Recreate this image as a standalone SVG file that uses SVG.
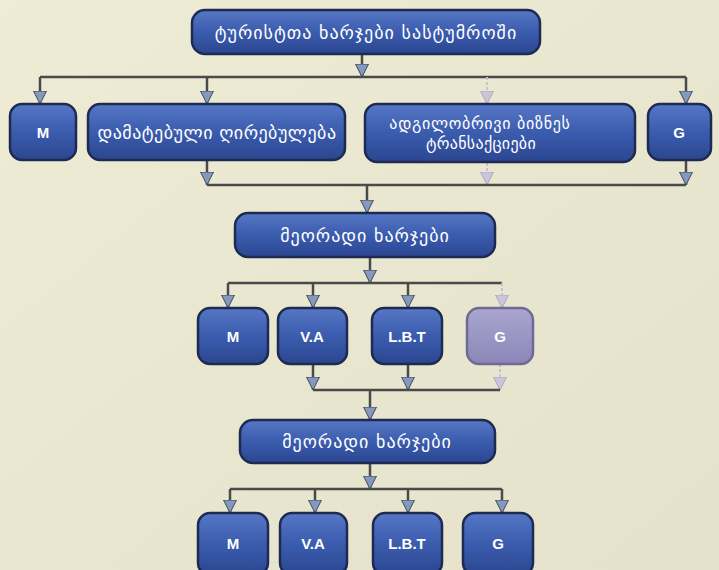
<svg xmlns="http://www.w3.org/2000/svg" width="719" height="570" viewBox="0 0 719 570">
<defs>
<linearGradient id="bg" x1="0" y1="0" x2="1" y2="1">
<stop offset="0" stop-color="#eeecd4"/>
<stop offset="1" stop-color="#e5e1cb"/>
</linearGradient>
<linearGradient id="box" x1="0" y1="0" x2="0" y2="1">
<stop offset="0" stop-color="#5677c4"/>
<stop offset="0.5" stop-color="#3b5cae"/>
<stop offset="1" stop-color="#2b4690"/>
</linearGradient>
<linearGradient id="boxL" x1="0" y1="0" x2="0" y2="1">
<stop offset="0" stop-color="#aaa6cf"/>
<stop offset="1" stop-color="#8b86b8"/>
</linearGradient>
<marker id="ah" viewBox="0 -7 13 14" refX="13" refY="0" markerWidth="13" markerHeight="14" markerUnits="userSpaceOnUse" orient="auto">
<path d="M0,-6.5 L13,0 L0,6.5 Z" fill="#8499bb" stroke="#3d4a5e" stroke-width="1"/>
</marker>
<marker id="ahL" viewBox="0 -7 13 14" refX="13" refY="0" markerWidth="13" markerHeight="14" markerUnits="userSpaceOnUse" orient="auto">
<path d="M0,-6.5 L13,0 L0,6.5 Z" fill="#c9c6dc" stroke="#aaa6c0" stroke-width="1"/>
</marker>
</defs>
<style>
.b{fill:url(#box);stroke:#1d2a52;stroke-width:2.5}
.bl{fill:url(#boxL);stroke:#6e6a94;stroke-width:2.5}
.t{font-family:"DejaVu Sans",sans-serif;font-size:18px;letter-spacing:1px;fill:#ffffff;text-anchor:middle;dominant-baseline:central}
.s{font-family:"Liberation Sans",Arial,sans-serif;font-size:15px;font-weight:bold;fill:#ffffff;text-anchor:middle;dominant-baseline:central}
.c{fill:none;stroke:#4a4a4a;stroke-width:2.5}
.ca{fill:none;stroke:#4a4a4a;stroke-width:2.5;marker-end:url(#ah)}
.cl{fill:none;stroke:#c4c1d2;stroke-width:2;stroke-dasharray:3 2;marker-end:url(#ahL)}
</style>
<rect x="0" y="0" width="719" height="570" fill="url(#bg)"/>

<g id="connectors">
<path class="ca" d="M362,54 V77"/>
<path class="c" d="M40,77 H686"/>
<path class="ca" d="M40,77 V104"/>
<path class="ca" d="M207,77 V104"/>
<path class="cl" d="M487,77 V104"/>
<path class="ca" d="M686,77 V104"/>
<path class="ca" d="M207,160 V185"/>
<path class="cl" d="M487,163 V185"/>
<path class="ca" d="M686,160 V185"/>
<path class="c" d="M207,185 H686"/>
<path class="ca" d="M367,185 V213"/>
<path class="ca" d="M370,257 V283"/>
<path class="c" d="M228,283 H502"/>
<path class="ca" d="M228,283 V308"/>
<path class="ca" d="M313,283 V308"/>
<path class="ca" d="M408,283 V308"/>
<path class="cl" d="M502,283 V308"/>
<path class="ca" d="M313,364 V390"/>
<path class="ca" d="M408,364 V390"/>
<path class="cl" d="M500,364 V390"/>
<path class="c" d="M313,390 H500"/>
<path class="ca" d="M370,390 V420"/>
<path class="ca" d="M370,463 V489"/>
<path class="c" d="M230,489 H502"/>
<path class="ca" d="M230,489 V513"/>
<path class="ca" d="M315,489 V513"/>
<path class="ca" d="M408,489 V513"/>
<path class="ca" d="M502,489 V513"/>
</g>

<g id="top"><rect class="b" x="192" y="10" width="348" height="44" rx="13"/><text class="t" x="366" y="32">ტურისტთა ხარჯები სასტუმროში</text></g>

<g id="r1m"><rect class="b" x="10" y="104" width="66" height="56" rx="12"/><text class="s" x="43" y="132">M</text></g>
<g id="r1va"><rect class="b" x="88" y="104" width="257" height="56" rx="12"/><text class="t" x="217" y="132" style="letter-spacing:0.5px">დამატებული ღირებულება</text></g>
<g id="r1lbt"><rect class="b" x="365" y="104" width="270" height="58" rx="12"/><text class="t" x="480" y="123" style="font-size:16px;letter-spacing:0.7px">ადგილობრივი ბიზნეს</text><text class="t" x="481" y="143" style="font-size:16px;letter-spacing:0.3px">ტრანსაქციები</text></g>
<g id="r1g"><rect class="b" x="648" y="104" width="63" height="56" rx="12"/><text class="s" x="679" y="132">G</text></g>

<g id="sec1"><rect class="b" x="235" y="213" width="260" height="44" rx="13"/><text class="t" x="365" y="235">მეორადი ხარჯები</text></g>

<g id="r2m"><rect class="b" x="198" y="308" width="70" height="56" rx="12"/><text class="s" x="233" y="336">M</text></g>
<g id="r2va"><rect class="b" x="278" y="308" width="69" height="56" rx="12"/><text class="s" x="312" y="336">V.A</text></g>
<g id="r2lbt"><rect class="b" x="372" y="308" width="70" height="56" rx="12"/><text class="s" x="407" y="336">L.B.T</text></g>
<g id="r2g"><rect class="bl" x="467" y="308" width="66" height="56" rx="12"/><text class="s" x="500" y="336">G</text></g>

<g id="sec2"><rect class="b" x="240" y="420" width="255" height="43" rx="13"/><text class="t" x="367" y="441">მეორადი ხარჯები</text></g>

<g id="r3m"><rect class="b" x="198" y="513" width="70" height="62" rx="12"/><text class="s" x="233" y="543">M</text></g>
<g id="r3va"><rect class="b" x="280" y="513" width="67" height="62" rx="12"/><text class="s" x="313" y="543">V.A</text></g>
<g id="r3lbt"><rect class="b" x="373" y="513" width="69" height="62" rx="12"/><text class="s" x="407" y="543">L.B.T</text></g>
<g id="r3g"><rect class="b" x="463" y="513" width="70" height="62" rx="12"/><text class="s" x="498" y="543">G</text></g>
</svg>
